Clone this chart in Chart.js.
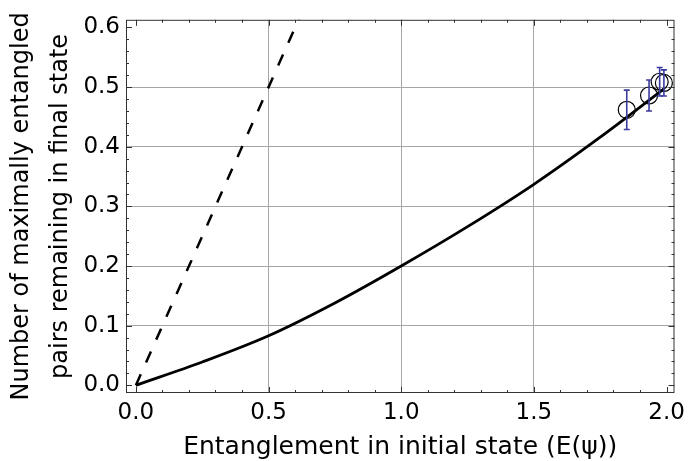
<!DOCTYPE html>
<html>
<head>
<meta charset="utf-8">
<script src="https://cdn.jsdelivr.net/npm/chart.js@4.4.1/dist/chart.umd.min.js"></script>
<style>
  html, body { margin: 0; padding: 0; background: #fff; }
  #wrap { width: 691px; height: 461px; }
</style>
</head>
<body>
<div id="wrap"><canvas id="myChart"></canvas></div>
<script>
// solid curve
const curveX = [0, 0.25, 0.5, 0.75, 1.0, 1.25, 1.5, 1.75, 1.99];
const curveY = [0, 0.039, 0.083, 0.138, 0.200, 0.266, 0.337, 0.416, 0.497];

// dashed line
const dashX = [0, 0.62];
const dashY = [0, 0.62];

// measured points with error bars
const ptX = [1.85, 1.934, 1.974, 1.99];
const ptY = [0.462, 0.486, 0.509, 0.507];
const ptErr = [0.033, 0.026, 0.024, 0.022];

const xTicks = [0, 0.5, 1.0, 1.5, 2.0];
const yTicks = [0, 0.1, 0.2, 0.3, 0.4, 0.5, 0.6];

const fontFam = "'DejaVu Sans', sans-serif";

function toXY(xs, ys) {
  return xs.map((x, i) => ({ x: x, y: ys[i] }));
}

// frame with ticks on all four sides
const framePlugin = {
  id: 'frame',
  afterDatasetsDraw(chart) {
    const ctx = chart.ctx;
    const a = chart.chartArea;
    const xs = chart.scales.x;
    const ys = chart.scales.y;
    ctx.save();
    ctx.strokeStyle = '#333';
    ctx.lineWidth = 1;
    ctx.strokeRect(a.left + 0.5, a.top + 0.5, a.right - a.left - 1, a.bottom - a.top - 1);
    for (let i = 0; i <= 20; i++) {
      const v = i / 10;
      const px = Math.round(xs.getPixelForValue(v)) + 0.5;
      const len = (i % 5 == 0) ? 6 : 3;
      ctx.beginPath();
      ctx.moveTo(px, a.bottom); ctx.lineTo(px, a.bottom - len);
      ctx.moveTo(px, a.top); ctx.lineTo(px, a.top + len);
      ctx.stroke();
    }
    for (let i = 0; i <= 30; i++) {
      const v = i / 50;
      const py = Math.round(ys.getPixelForValue(v)) + 0.5;
      const len = (i % 5 == 0) ? 6 : 3;
      ctx.beginPath();
      ctx.moveTo(a.left, py); ctx.lineTo(a.left + len, py);
      ctx.moveTo(a.right, py); ctx.lineTo(a.right - len, py);
      ctx.stroke();
    }
    ctx.restore();
  }
};

// blue error bars on the measured points
const errorBarPlugin = {
  id: 'errorBars',
  afterDatasetsDraw(chart) {
    const ctx = chart.ctx;
    const xs = chart.scales.x;
    const ys = chart.scales.y;
    ctx.save();
    ctx.strokeStyle = '#3b3b9e';
    ctx.lineWidth = 1.6;
    ptX.forEach((x, i) => {
      const px = xs.getPixelForValue(x);
      const top = ys.getPixelForValue(ptY[i] + ptErr[i]);
      const bot = ys.getPixelForValue(ptY[i] - ptErr[i]);
      ctx.beginPath();
      ctx.moveTo(px, top); ctx.lineTo(px, bot);
      ctx.moveTo(px - 3, top); ctx.lineTo(px + 3, top);
      ctx.moveTo(px - 3, bot); ctx.lineTo(px + 3, bot);
      ctx.stroke();
    });
    ctx.restore();
  }
};

function gridColor(c) {
  const v = c.tick ? c.tick.value : null;
  if (v === null) return 'rgba(0,0,0,0)';
  if (c.scale.axis === 'x') return (v > 0.01 && v < 1.99) ? '#a6a6a6' : 'rgba(0,0,0,0)';
  return (v > 0.01 && v < 0.59) ? '#a6a6a6' : 'rgba(0,0,0,0)';
}

var ctx = document.getElementById('myChart').getContext('2d');
var chart = new Chart(ctx, {
  type: 'scatter',
  data: {
    datasets: [
      {
        label: 'points',
        data: toXY(ptX, ptY),
        showLine: false,
        pointStyle: 'circle',
        pointRadius: 8.5,
        pointBorderColor: '#000',
        pointBorderWidth: 1.2,
        pointBackgroundColor: 'rgba(0,0,0,0)',
        order: 0
      },
      {
        label: 'curve',
        data: toXY(curveX, curveY),
        showLine: true,
        borderColor: '#000',
        borderWidth: 2.8,
        pointRadius: 0,
        cubicInterpolationMode: 'monotone',
        order: 1
      },
      {
        label: 'dashed',
        data: toXY(dashX, dashY),
        showLine: true,
        borderColor: '#000',
        borderWidth: 2.5,
        borderDash: [12, 13],
        pointRadius: 0,
        order: 2
      }
    ]
  },
  options: {
    responsive: true,
    maintainAspectRatio: false,
    animation: false,
    layout: { padding: { top: 4, right: 11, left: 0, bottom: 0 } },
    plugins: {
      legend: { display: false },
      tooltip: { enabled: false }
    },
    scales: {
      x: {
        type: 'linear',
        min: -0.0373,
        max: 2.0299,
        afterBuildTicks: s => { s.ticks = xTicks.map(v => ({ value: v })); },
        afterFit: s => { s.height = 68; },
        ticks: {
          color: '#000',
          padding: 6,
          maxRotation: 0,
          font: { family: fontFam, size: 23 },
          callback: v => Number(v).toFixed(1)
        },
        grid: { color: gridColor, lineWidth: 1, drawTicks: false },
        border: { display: false },
        title: {
          display: true,
          text: 'Entanglement in initial state (E(ψ))',
          color: '#000',
          font: { family: fontFam, size: 25, lineHeight: 1 },
          padding: { top: 0, bottom: 1 }
        }
      },
      y: {
        type: 'linear',
        min: -0.0129,
        max: 0.6129,
        afterBuildTicks: s => { s.ticks = yTicks.map(v => ({ value: v })); },
        afterFit: s => { s.width = 126; },
        ticks: {
          color: '#000',
          padding: 6,
          font: { family: fontFam, size: 23 },
          callback: v => Number(v).toFixed(1)
        },
        grid: { color: gridColor, lineWidth: 1, drawTicks: false },
        border: { display: false },
        title: {
          display: true,
          text: ['Number of maximally entangled', 'pairs remaining in final state'],
          color: '#000',
          font: { family: fontFam, size: 24, lineHeight: 1.6 },
          padding: { top: 3, bottom: 0 }
        }
      }
    }
  },
  plugins: [framePlugin, errorBarPlugin]
});
</script>
</body>
</html>
